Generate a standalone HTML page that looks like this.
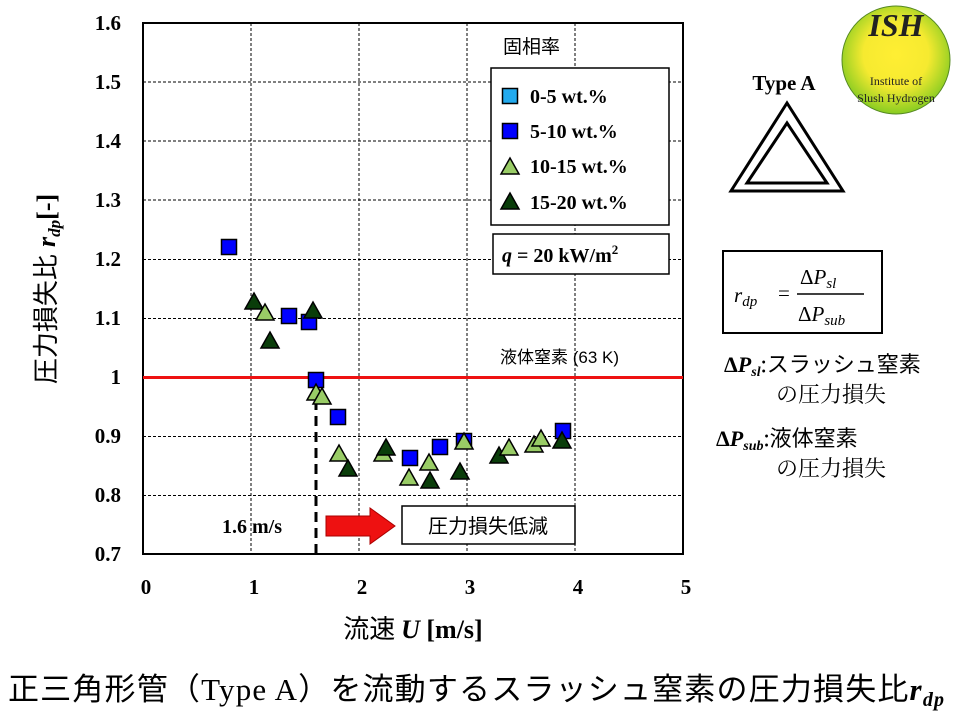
<!DOCTYPE html>
<html><head><meta charset="utf-8"><style>
body{margin:0;background:#fff;width:960px;height:720px;overflow:hidden}
svg text{font-family:"Liberation Serif","Noto Serif CJK SC",serif}
.j{font-family:"Liberation Sans","Noto Sans CJK JP",sans-serif}
</style></head><body>
<svg width="960" height="720" viewBox="0 0 960 720" xmlns="http://www.w3.org/2000/svg">
<defs>
<g id="sq"><rect x="-7.5" y="-7.5" width="15" height="15" fill="#0000ff" stroke="#000" stroke-width="1.5"/></g>
<g id="sqc"><rect x="-7.5" y="-7.5" width="15" height="15" fill="#22aaee" stroke="#000" stroke-width="1.5"/></g>
<g id="dt"><polygon points="0,-9 9,7 -9,7" fill="#0a3d0a" stroke="#000" stroke-width="1.5"/></g>
<g id="lt"><polygon points="0,-9 9,7 -9,7" fill="#99cc66" stroke="#000" stroke-width="1.5"/></g>
<radialGradient id="g" cx="50%" cy="45%" r="55%"><stop offset="0%" stop-color="#ffee33"/><stop offset="55%" stop-color="#f6ea30"/><stop offset="100%" stop-color="#88cc22"/></radialGradient>
</defs>
<g stroke="#000" stroke-width="1" stroke-dasharray="3,2">
<line x1="251" y1="23" x2="251" y2="554"/><line x1="359" y1="23" x2="359" y2="554"/>
<line x1="467" y1="23" x2="467" y2="554"/><line x1="575" y1="23" x2="575" y2="554"/>
<line x1="143" y1="82" x2="683" y2="82"/><line x1="143" y1="141" x2="683" y2="141"/>
<line x1="143" y1="200" x2="683" y2="200"/><line x1="143" y1="259.5" x2="683" y2="259.5"/>
<line x1="143" y1="318.5" x2="683" y2="318.5"/><line x1="143" y1="436.5" x2="683" y2="436.5"/>
<line x1="143" y1="495.5" x2="683" y2="495.5"/>
</g>
<rect x="143" y="23" width="540" height="531" fill="none" stroke="#000" stroke-width="2"/>
<g font-size="21" font-weight="bold" text-anchor="end">
<text x="121" y="30">1.6</text><text x="121" y="89">1.5</text><text x="121" y="148">1.4</text>
<text x="121" y="207">1.3</text><text x="121" y="266">1.2</text><text x="121" y="325">1.1</text>
<text x="121" y="384">1</text><text x="121" y="443">0.9</text><text x="121" y="502">0.8</text>
<text x="121" y="561">0.7</text>
</g>
<g font-size="21" font-weight="bold" text-anchor="middle">
<text x="146" y="594">0</text><text x="254" y="594">1</text><text x="362" y="594">2</text>
<text x="470" y="594">3</text><text x="578" y="594">4</text><text x="686" y="594">5</text>
</g>
<line x1="143" y1="377.5" x2="683" y2="377.5" stroke="#ee1111" stroke-width="3"/>
<text class="j" x="500" y="363" font-size="17">液体窒素 (63 K)</text>
<line x1="316" y1="400" x2="316" y2="554" stroke="#000" stroke-width="3" stroke-dasharray="10,6"/>
<text x="222" y="533" font-size="20" font-weight="bold">1.6 m/s</text>
<polygon points="326,516 370,516 370,508 395,526 370,544 370,536 326,536" fill="#ee1111" stroke="#aa0000"/>
<rect x="402" y="506" width="173" height="38" fill="#fff" stroke="#000" stroke-width="1.5"/>
<text class="j" x="488" y="533" font-size="20" text-anchor="middle">圧力損失低減</text>
<use href="#sq" x="229" y="247"/><use href="#sq" x="289" y="316"/><use href="#sq" x="309" y="322"/>
<use href="#dt" x="254" y="302"/><use href="#lt" x="265" y="313"/><use href="#dt" x="270" y="341"/><use href="#dt" x="313" y="311"/>
<use href="#sq" x="316" y="380"/>
<use href="#lt" x="316" y="393"/><use href="#lt" x="322" y="397"/><use href="#sq" x="338" y="417"/>
<use href="#lt" x="339" y="454"/><use href="#dt" x="348" y="469"/>
<use href="#lt" x="383" y="454"/><use href="#dt" x="386" y="448"/>
<use href="#sq" x="410" y="458"/><use href="#lt" x="409" y="478"/><use href="#lt" x="429" y="463"/><use href="#dt" x="430" y="481"/>
<use href="#sq" x="440" y="447"/><use href="#dt" x="460" y="472"/><use href="#sq" x="464" y="441"/><use href="#lt" x="464" y="442"/>
<use href="#dt" x="499" y="456"/><use href="#lt" x="509" y="448"/>
<use href="#lt" x="534" y="445"/><use href="#lt" x="541" y="439"/>
<use href="#sq" x="563" y="431"/><use href="#dt" x="562" y="441"/>
<text class="j" x="503" y="53" font-size="19">固相率</text>
<rect x="491" y="68" width="178" height="157" fill="#fff" stroke="#000" stroke-width="1.5"/>
<use href="#sqc" x="510" y="96"/><text x="530" y="103" font-size="20" font-weight="bold">0-5 wt.%</text>
<use href="#sq" x="510" y="131"/><text x="530" y="138" font-size="20" font-weight="bold">5-10 wt.%</text>
<use href="#lt" x="510" y="167"/><text x="530" y="173" font-size="20" font-weight="bold">10-15 wt.%</text>
<use href="#dt" x="510" y="202"/><text x="530" y="209" font-size="20" font-weight="bold">15-20 wt.%</text>
<rect x="493" y="234" width="176" height="40" fill="#fff" stroke="#000" stroke-width="1.5"/>
<text x="502" y="262" font-size="20" font-weight="bold"><tspan font-style="italic">q</tspan> = 20 kW/m<tspan dy="-8" font-size="13">2</tspan></text>
<text class="j" transform="translate(55,289) rotate(-90)" font-size="26" text-anchor="middle">圧力損失比 <tspan font-family="Liberation Serif" font-style="italic" font-weight="bold">r</tspan><tspan font-family="Liberation Serif" font-style="italic" font-weight="bold" font-size="17" dy="5">dp</tspan><tspan dy="-5" font-family="Liberation Serif" font-weight="bold">[-]</tspan></text>
<text x="413" y="638" font-size="26" text-anchor="middle"><tspan font-family="Noto Sans CJK JP">流速 </tspan><tspan font-style="italic" font-weight="bold">U</tspan><tspan font-weight="bold"> [m/s]</tspan></text>
<text x="8" y="700" font-size="31" textLength="936" lengthAdjust="spacing"><tspan font-family="Noto Sans CJK JP">正三角形管（</tspan><tspan font-family="Liberation Serif">Type A</tspan><tspan font-family="Noto Sans CJK JP">）を流動するスラッシュ窒素の圧力損失比</tspan><tspan font-style="italic" font-weight="bold">r</tspan><tspan font-style="italic" font-weight="bold" font-size="20" dy="6">dp</tspan></text>
<text x="784" y="90" font-size="21" font-weight="bold" text-anchor="middle">Type A</text>
<polygon points="787,103 843,191 731,191" fill="none" stroke="#000" stroke-width="3"/>
<polygon points="787,123 827,183 747,183" fill="none" stroke="#000" stroke-width="3"/>
<circle cx="896" cy="60" r="54" fill="url(#g)" stroke="#558822"/>
<text x="896" y="36" font-family="Liberation Sans" font-size="32" font-weight="bold" font-style="italic" text-anchor="middle" fill="#222">ISH</text>
<text x="896" y="85" font-family="Liberation Sans" font-size="12" text-anchor="middle" fill="#222">Institute of</text>
<text x="896" y="102" font-family="Liberation Sans" font-size="12" text-anchor="middle" fill="#222">Slush Hydrogen</text>
<rect x="723" y="251" width="159" height="82" fill="#fff" stroke="#000" stroke-width="2"/>
<text x="734" y="302" font-size="21" font-style="italic">r<tspan font-size="15" dy="4">dp</tspan></text>
<text x="778" y="300" font-size="21">=</text>
<line x1="797" y1="294" x2="864" y2="294" stroke="#000" stroke-width="1.5"/>
<text x="800" y="284" font-size="21">Δ<tspan font-style="italic">P</tspan><tspan font-style="italic" font-size="15" dy="4">sl</tspan></text>
<text x="798" y="321" font-size="21">Δ<tspan font-style="italic">P</tspan><tspan font-style="italic" font-size="15" dy="4">sub</tspan></text>
<text x="724" y="372" font-size="22" font-weight="bold">Δ<tspan font-style="italic">P</tspan><tspan font-style="italic" font-size="14" dy="4">sl</tspan><tspan dy="-4" font-weight="normal" font-family="Noto Sans CJK JP">:スラッシュ窒素</tspan></text>
<text x="776" y="402" font-size="22" font-family="Noto Sans CJK JP">の圧力損失</text>
<text x="716" y="446" font-size="22" font-weight="bold">Δ<tspan font-style="italic">P</tspan><tspan font-style="italic" font-size="14" dy="4">sub</tspan><tspan dy="-4" font-weight="normal" font-family="Noto Sans CJK JP">:液体窒素</tspan></text>
<text x="776" y="476" font-size="22" font-family="Noto Sans CJK JP">の圧力損失</text>
</svg>
</body></html>
